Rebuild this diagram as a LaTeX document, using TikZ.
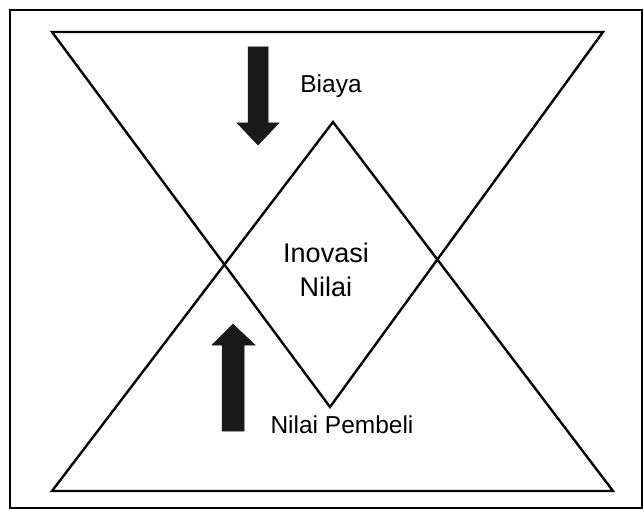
\documentclass[tikz,border=0pt]{standalone}
\usepackage{fontspec}
\setmainfont{Liberation Sans}
\begin{document}
\begin{tikzpicture}[x=1pt, y=-1pt,
	tri/.style={line width=2.4pt, line join=miter},
	fatarrow/.style={fill=black!90, draw=black!90, line width=0.5pt},
	lbl/.style={font=\fontsize{24.5}{28}\selectfont, inner sep=0pt}]
\useasboundingbox (0, 0) rectangle (644, 510);

\draw[line width=1.8pt] (10, 10) rectangle (642, 508);

\draw[tri] (52, 32) -- (603, 32) -- (330, 407) -- cycle;
\draw[tri] (52, 491) -- (613, 491) -- (333, 122) -- cycle;

\filldraw[fatarrow] (248, 47) -- (268, 47) -- (268, 123) -- (279, 123) -- (258, 145) -- (237, 123) -- (248, 123) -- cycle;
\filldraw[fatarrow] (222, 431) -- (244, 431) -- (244, 345) -- (255, 345) -- (233, 324) -- (212, 345) -- (222, 345) -- cycle;

\node[lbl, anchor=base] (biaya) at (331, 93) {Biaya};
\node[lbl, anchor=base] (pembeli) at (342, 433) {Nilai Pembeli};
\node[lbl, font=\fontsize{27}{34}\selectfont, align=center] (inovasi) at (326, 270) {Inovasi\\Nilai};
\end{tikzpicture}
\end{document}
